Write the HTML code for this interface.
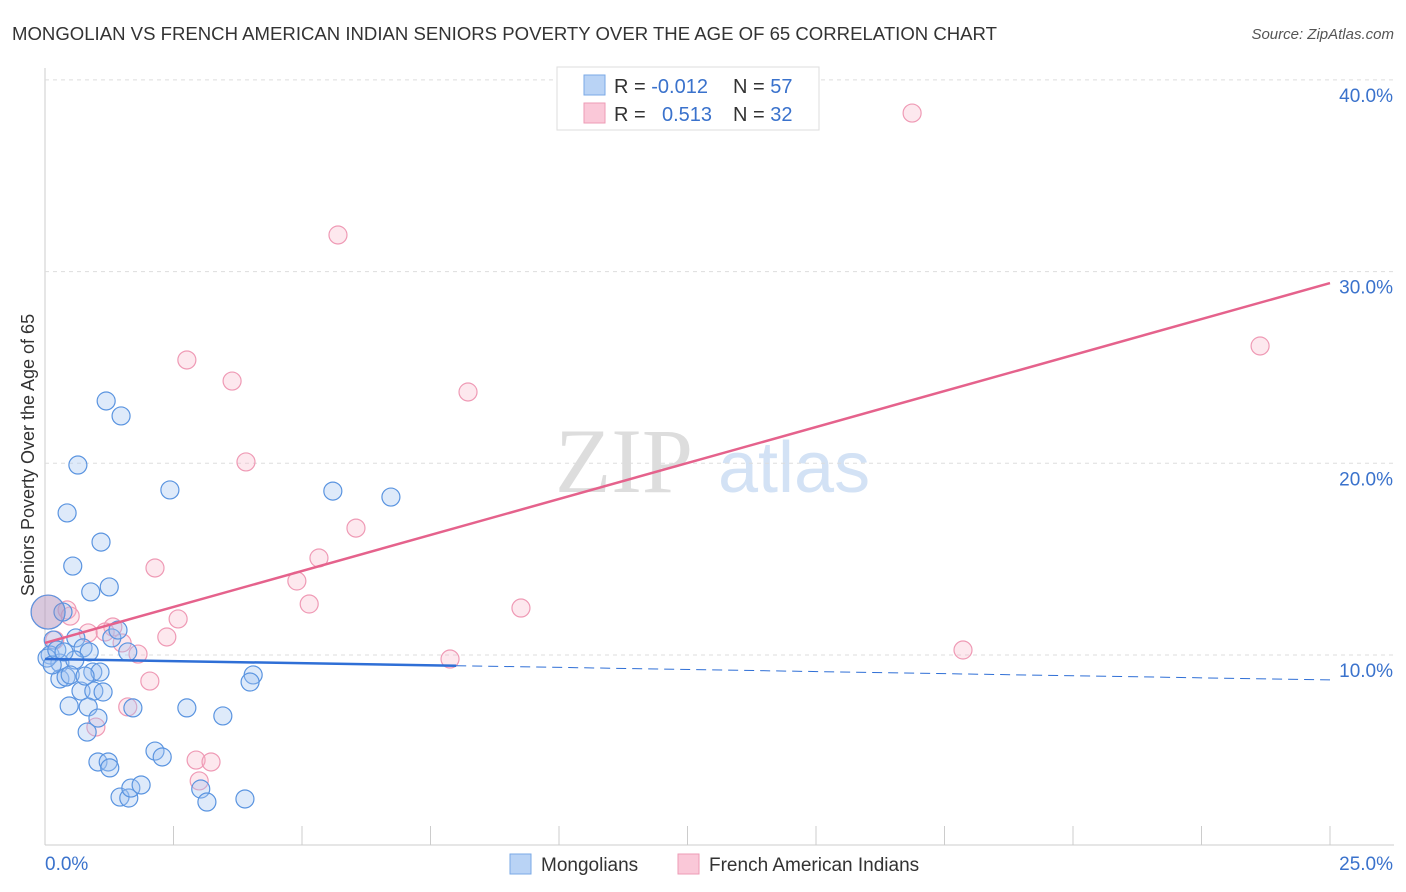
<!DOCTYPE html>
<html><head><meta charset="utf-8"><style>
body{margin:0;background:#fff;font-family:"Liberation Sans",sans-serif;}
svg{display:block}
</style></head><body>
<svg id="c" width="1406" height="892" xmlns="http://www.w3.org/2000/svg">
<text x="12" y="40" font-size="18" fill="#333" textLength="985" lengthAdjust="spacingAndGlyphs">MONGOLIAN VS FRENCH AMERICAN INDIAN SENIORS POVERTY OVER THE AGE OF 65 CORRELATION CHART</text>
<text x="1394" y="39" font-size="15" fill="#555" font-style="italic" text-anchor="end">Source: ZipAtlas.com</text>
<text x="34" y="455" font-size="18" fill="#333" text-anchor="middle" transform="rotate(-90 34 455)">Seniors Poverty Over the Age of 65</text>
<text x="555" y="492" font-size="92" fill="#ddd" font-family="Liberation Serif,serif">ZIP</text>
<text x="718" y="492" font-size="72" fill="#d3e2f5">atlas</text>
<g id="grid"></g><g id="pts"></g><g id="lines"></g>
<g>
<rect x="557" y="67" width="262" height="63" fill="#fff" stroke="#ddd"/>
<rect x="584" y="75" width="21" height="20" fill="#b9d3f5" stroke="#7aa8e6"/>
<rect x="584" y="103" width="21" height="20" fill="#fac8d8" stroke="#ee9bb6"/>
<text x="614" y="93" font-size="20" fill="#333">R = <tspan fill="#3a72cc">-0.012</tspan></text>
<text x="733" y="93" font-size="20" fill="#333">N = <tspan fill="#3a72cc">57</tspan></text>
<text x="614" y="121" font-size="20" fill="#333">R = <tspan fill="#3a72cc" x="662">0.513</tspan></text>
<text x="733" y="121" font-size="20" fill="#333">N = <tspan fill="#3a72cc">32</tspan></text>
</g>
<g>
<rect x="510" y="854" width="21" height="20" fill="#b9d3f5" stroke="#7aa8e6"/>
<text x="541" y="871" font-size="19" fill="#333">Mongolians</text>
<rect x="678" y="854" width="21" height="20" fill="#fac8d8" stroke="#ee9bb6"/>
<text x="709" y="871" font-size="19" fill="#333">French American Indians</text>
</g>
</svg>
<script>
const xTicks=[0,25];
const yTicks=[10,20,30,40];
const blueX=[1.19,1.48,0.64,2.43,5.60,6.73,0.43,1.09,0.54,1.25,0.89,0.35,0.06,0.16,1.30,1.42,0.60,0.74,0.86,0.10,0.29,0.58,1.61,0.04,0.29,0.41,0.49,0.93,4.05,3.99,0.70,0.95,1.13,0.47,0.84,1.71,2.76,3.46,1.03,0.82,2.14,2.28,1.03,1.23,1.26,1.46,1.63,1.67,1.87,3.03,3.15,3.89,0.14,0.23,1.07,0.78,0.37];
const blueY=[23.25,22.47,19.91,18.61,18.55,18.24,17.41,15.89,14.64,13.55,13.29,12.24,12.24,10.78,10.89,11.30,10.89,10.37,10.16,10.0,9.58,9.74,10.16,9.84,8.75,8.85,8.96,9.11,8.96,8.59,8.12,8.12,8.07,7.34,7.29,7.24,7.24,6.82,6.71,5.98,4.99,4.68,4.42,4.42,4.11,2.59,2.54,3.06,3.22,3.01,2.33,2.49,9.48,10.26,9.11,8.90,10.16];
const pinkX=[16.87,5.70,2.76,3.64,8.23,23.64,3.91,6.05,5.33,2.14,4.90,5.14,9.26,2.59,0.43,1.32,0.84,2.37,1.50,1.81,17.86,7.88,2.04,1.61,0.99,2.94,3.23,3.00,0.06,0.19,0.49,1.17];
const pinkY=[38.27,31.91,25.39,24.29,23.72,26.12,20.07,16.62,15.06,14.54,13.86,12.66,12.45,11.88,12.35,11.46,11.15,10.94,10.63,10.05,10.26,9.79,8.64,7.29,6.24,4.52,4.42,3.43,12.24,10.78,12.03,11.20];
const blueTrend=[9.79,8.70];
const pinkTrend=[10.63,29.4];
const blueSolidEnd=8;
const NS="http://www.w3.org/2000/svg";
const X=v=>45+v/25*1285;
const Y=v=>655-(v-10)*19.17;
function mk(tag,attrs,parent){const e=document.createElementNS(NS,tag);for(const k in attrs)e.setAttribute(k,attrs[k]);document.getElementById(parent).appendChild(e);return e;}
let a=mk('line',{x1:45,y1:68,x2:45,y2:845,stroke:'#ccc'},'grid');


a=mk('line',{x1:45,y1:845,x2:1394,y2:845,stroke:'#ccc'},'grid');


for(let i=0;i<=10;i++){const t=mk('line',{x1:45+i*128.5,y1:826,x2:45+i*128.5,y2:845,stroke:'#ccc'},'grid');

}
yTicks.forEach(v=>{const g=mk('line',{x1:45,y1:Y(v),x2:1394,y2:Y(v),stroke:'#ddd','stroke-dasharray':'4 4'},'grid');


const t=mk('text',{x:1393,y:Y(v)+22,'font-size':19,fill:'#3a72cc','text-anchor':'end'},'grid');t.textContent=v.toFixed(1)+'%';

});
xTicks.forEach((v,i)=>{const t=mk('text',{x:i?1393:45,y:870,'font-size':19,fill:'#3a72cc','text-anchor':i?'end':'start'},'grid');t.textContent=v.toFixed(1)+'%';

});
pinkX.forEach((x,i)=>{const c=mk('circle',{cx:X(x),cy:Y(pinkY[i]),r:i==28?17:9,fill:'rgba(248,180,200,0.3)',stroke:'#ef9ab5','stroke-width':1.2},'pts');

});
blueX.forEach((x,i)=>{const c=mk('circle',{cx:X(x),cy:Y(blueY[i]),r:i==12?17:9,fill:i==12?'rgba(150,140,190,0.35)':'rgba(160,195,240,0.35)',stroke:'#5a94e0','stroke-width':1.2},'pts');

});
const bAt=v=>blueTrend[0]+(blueTrend[1]-blueTrend[0])*v/25;
let l=mk('line',{x1:X(0),y1:Y(blueTrend[0]),x2:X(blueSolidEnd),y2:Y(bAt(blueSolidEnd)),stroke:'#2f6fd6','stroke-width':2.5},'lines');


l=mk('line',{x1:X(blueSolidEnd),y1:Y(bAt(blueSolidEnd)),x2:X(25),y2:Y(blueTrend[1]),stroke:'#2f6fd6','stroke-width':1,'stroke-dasharray':'10 6'},'lines');


l=mk('line',{x1:X(0),y1:Y(pinkTrend[0]),x2:X(25),y2:Y(pinkTrend[1]),stroke:'#e5628c','stroke-width':2.5},'lines');


</script>
</body></html>
